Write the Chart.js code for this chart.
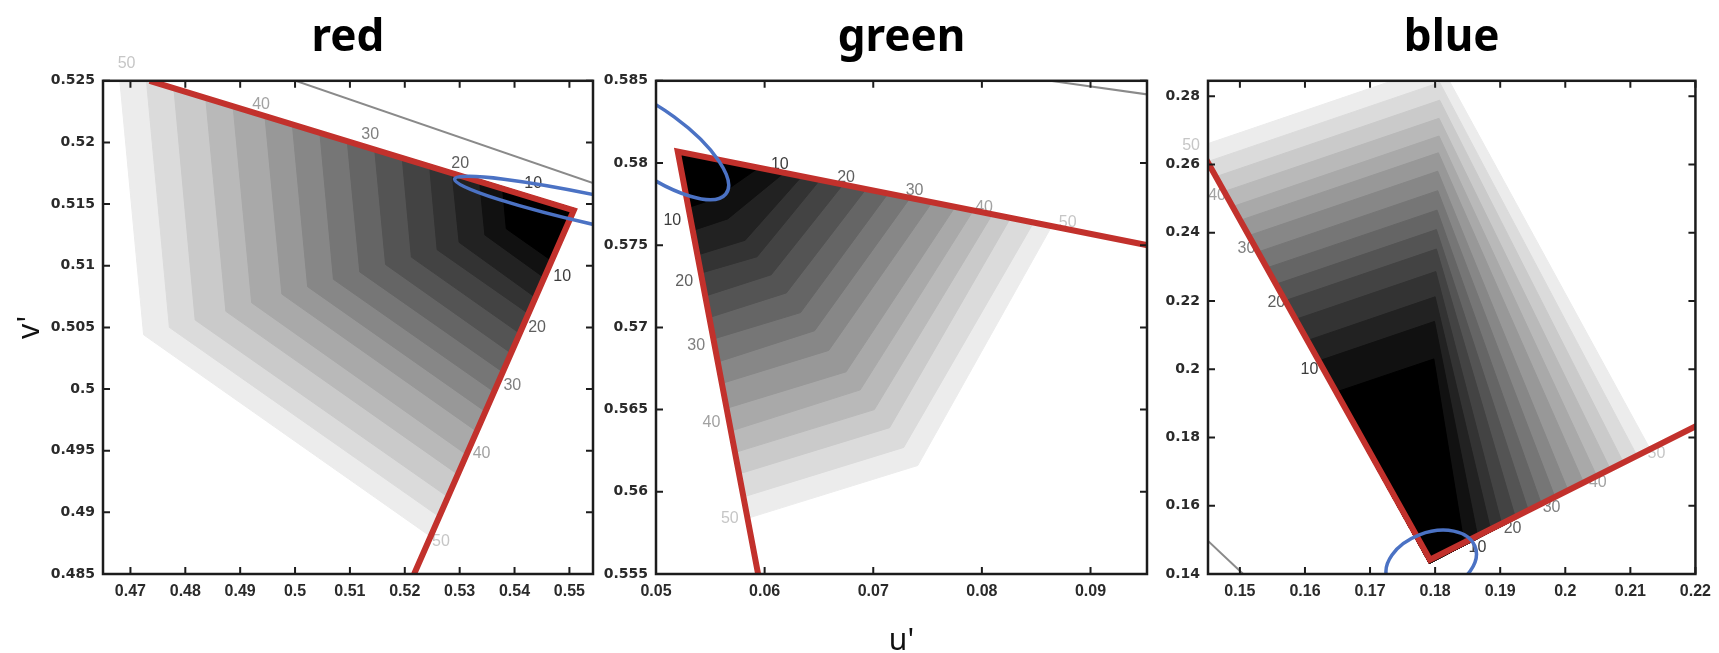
<!DOCTYPE html>
<html>
<head>
<meta charset="utf-8">
<script src="https://cdn.jsdelivr.net/npm/chart.js@4.4.1/dist/chart.umd.min.js"></script>
<style>
  html, body { margin: 0; padding: 0; background: #fff; }
  #wrap { position: relative; width: 1719px; height: 653px; overflow: hidden; }
  #wrap canvas { position: absolute; top: 0; }
</style>
</head>
<body>
<div id="wrap">
  <canvas id="redChart" width="600" height="653" style="left:0"></canvas>
  <canvas id="greenChart" width="550" height="653" style="left:600px"></canvas>
  <canvas id="blueChart" width="569" height="653" style="left:1150px"></canvas>
</div>
<script>
// contour levels, outermost first
const contourLevels = [50, 47, 44, 41, 38, 35, 32, 29, 26, 23, 20, 17, 14, 11, 8, 5];

// ---- red panel ----
const redXTicks = [0.47, 0.48, 0.49, 0.50, 0.51, 0.52, 0.53, 0.54, 0.55];
const redXLabels = ['0.47', '0.48', '0.49', '0.5', '0.51', '0.52', '0.53', '0.54', '0.55'];
const redYTicks = [0.485, 0.49, 0.495, 0.50, 0.505, 0.51, 0.515, 0.52, 0.525];
const redYLabels = ['0.485', '0.49', '0.495', '0.5', '0.505', '0.51', '0.515', '0.52', '0.525'];
const redCorner = [0.5511, 0.5146];
const redTopU = [0.4679, 0.4729, 0.4779, 0.4837, 0.4887, 0.4945, 0.4995, 0.5045, 0.5095, 0.5145, 0.5195, 0.5245, 0.5286, 0.5336, 0.5378, 0.5428];
const redTopV = [0.5258, 0.5251, 0.5245, 0.5237, 0.5230, 0.5222, 0.5215, 0.5209, 0.5202, 0.5195, 0.5189, 0.5182, 0.5176, 0.5170, 0.5164, 0.5157];
const redBendU = [0.4724, 0.4771, 0.4818, 0.4874, 0.4921, 0.4976, 0.5023, 0.5070, 0.5118, 0.5165, 0.5212, 0.5259, 0.5299, 0.5346, 0.5385, 0.5432];
const redBendV = [0.5044, 0.5050, 0.5056, 0.5063, 0.5070, 0.5077, 0.5083, 0.5089, 0.5095, 0.5101, 0.5107, 0.5113, 0.5119, 0.5125, 0.5130, 0.5136];
const redEndU = [0.5245, 0.5261, 0.5277, 0.5296, 0.5312, 0.5330, 0.5346, 0.5362, 0.5378, 0.5394, 0.5410, 0.5426, 0.5439, 0.5455, 0.5468, 0.5484];
const redEndV = [0.4881, 0.4897, 0.4913, 0.4931, 0.4947, 0.4966, 0.4982, 0.4998, 0.5014, 0.5029, 0.5045, 0.5061, 0.5074, 0.5090, 0.5104, 0.5120];
const redEdgeU = [0.4735, 0.5508, 0.5217];
const redEdgeV = [0.5250, 0.5145, 0.4850];
const redGrayU = [0.5001, 0.5543];
const redGrayV = [0.5250, 0.5167];
const redEllipse = [0.5581, 0.5142, -0.02902, 0.00283, 0.000685, 0.001156]; // centre u,v, axis 1, axis 2
const redLabelText = ['50', '40', '30', '20', '10', '10', '20', '30', '40', '50'];
const redLabelU = [0.4693, 0.4938, 0.5137, 0.5301, 0.5434, 0.5487, 0.5441, 0.5396, 0.5340, 0.5266];
const redLabelV = [0.5264, 0.5231, 0.5206, 0.5183, 0.5167, 0.5091, 0.5050, 0.5003, 0.4948, 0.4876];

// ---- green panel ----
const greenXTicks = [0.05, 0.06, 0.07, 0.08, 0.09];
const greenXLabels = ['0.05', '0.06', '0.07', '0.08', '0.09'];
const greenYTicks = [0.555, 0.56, 0.565, 0.57, 0.575, 0.58, 0.585];
const greenYLabels = ['0.555', '0.56', '0.565', '0.57', '0.575', '0.58', '0.585'];
const greenCorner = [0.0520, 0.5806];
const greenTopU = [0.0863, 0.0846, 0.0825, 0.0808, 0.0791, 0.0774, 0.0753, 0.0733, 0.0712, 0.0692, 0.0671, 0.0650, 0.0633, 0.0616, 0.0592, 0.0568];
const greenTopV = [0.5760, 0.5762, 0.5765, 0.5767, 0.5770, 0.5772, 0.5775, 0.5778, 0.5780, 0.5783, 0.5786, 0.5789, 0.5791, 0.5793, 0.5796, 0.5800];
const greenBendU = [0.0741, 0.0728, 0.0715, 0.0701, 0.0688, 0.0675, 0.0659, 0.0646, 0.0633, 0.0620, 0.0606, 0.0593, 0.0582, 0.0566, 0.0553, 0.0540];
const greenBendV = [0.5616, 0.5627, 0.5639, 0.5650, 0.5662, 0.5673, 0.5686, 0.5698, 0.5709, 0.5721, 0.5732, 0.5743, 0.5753, 0.5766, 0.5778, 0.5789];
const greenEndU = [0.0585, 0.0581, 0.0577, 0.0573, 0.0569, 0.0566, 0.0561, 0.0557, 0.0553, 0.0549, 0.0545, 0.0541, 0.0538, 0.0534, 0.0530, 0.0526];
const greenEndV = [0.5584, 0.5597, 0.5611, 0.5624, 0.5637, 0.5651, 0.5666, 0.5679, 0.5693, 0.5706, 0.5719, 0.5733, 0.5744, 0.5759, 0.5773, 0.5786];
const greenEdgeU = [0.0960, 0.0520, 0.0594];
const greenEdgeV = [0.5749, 0.5807, 0.5550];
const greenGrayU = [0.0863, 0.0960];
const greenGrayV = [0.5850, 0.5841];
const greenEllipse = [0.0498, 0.5813, 0.00662, -0.00319, -0.00187, -0.00151];
const greenLabelText = ['10', '20', '30', '40', '50', '10', '20', '30', '40', '50'];
const greenLabelU = [0.0614, 0.0675, 0.0738, 0.0802, 0.0879, 0.0515, 0.0526, 0.0537, 0.0551, 0.0568];
const greenLabelV = [0.5799, 0.5791, 0.5783, 0.5773, 0.5764, 0.5765, 0.5728, 0.5689, 0.5642, 0.5584];

// ---- blue panel ----
const blueXTicks = [0.15, 0.16, 0.17, 0.18, 0.19, 0.20, 0.21, 0.22];
const blueXLabels = ['0.15', '0.16', '0.17', '0.18', '0.19', '0.2', '0.21', '0.22'];
const blueYTicks = [0.14, 0.16, 0.18, 0.20, 0.22, 0.24, 0.26, 0.28];
const blueYLabels = ['0.14', '0.16', '0.18', '0.2', '0.22', '0.24', '0.26', '0.28'];
const blueCorner = [0.1791, 0.1431];
const blueTopU = [0.1437, 0.1450, 0.1463, 0.1475, 0.1488, 0.1500, 0.1513, 0.1527, 0.1540, 0.1554, 0.1568, 0.1584, 0.1602, 0.1619, 0.1646, 0.1685];
const blueTopV = [0.2652, 0.2608, 0.2564, 0.2520, 0.2476, 0.2436, 0.2391, 0.2343, 0.2296, 0.2248, 0.2200, 0.2145, 0.2083, 0.2023, 0.1932, 0.1797];
const blueBendU = [0.1808, 0.1807, 0.1807, 0.1806, 0.1806, 0.1805, 0.1804, 0.1804, 0.1803, 0.1802, 0.1802, 0.1801, 0.1800, 0.1799, 0.1798, 0.1796];
const blueBendV = [0.2893, 0.2840, 0.2788, 0.2735, 0.2683, 0.2634, 0.2580, 0.2523, 0.2466, 0.2409, 0.2352, 0.2286, 0.2212, 0.2140, 0.2030, 0.1870];
const blueEndU = [0.2131, 0.2111, 0.2090, 0.2070, 0.2049, 0.2029, 0.2005, 0.1985, 0.1964, 0.1944, 0.1924, 0.1903, 0.1886, 0.1866, 0.1845, 0.1825];
const blueEndV = [0.1764, 0.1744, 0.1724, 0.1704, 0.1684, 0.1664, 0.1641, 0.1621, 0.1601, 0.1581, 0.1561, 0.1541, 0.1524, 0.1504, 0.1484, 0.1464];
const blueEdgeU = [0.1445, 0.1792, 0.2215];
const blueEdgeV = [0.2626, 0.1442, 0.1847];
const blueGrayU = [0.1451, 0.1505];
const blueGrayV = [0.1497, 0.1400];
const blueEllipse = [0.1794, 0.14328, 0.0067, 0.00492, 0.00182, -0.0082];
const blueLabelText = ['50', '40', '30', '20', '10', '10', '20', '30', '40', '50'];
const blueLabelU = [0.1425, 0.1465, 0.1510, 0.1556, 0.1607, 0.1865, 0.1919, 0.1979, 0.2050, 0.2140];
const blueLabelV = [0.2656, 0.2508, 0.2354, 0.2195, 0.2000, 0.1477, 0.1533, 0.1595, 0.1667, 0.1754];

// grey level of a filled band
function shade(level) {
    const g = Math.max(0, Math.round(236 * (level - 8) / 42));
    return `rgb(${g},${g},${g})`;
}
const labelColors = { '10': '#3c3c3c', '20': '#5e5e5e', '30': '#808080', '40': '#a2a2a2', '50': '#c6c6c6' };

// labels sit above the bands but under the red edge
const contourLabels = {
    id: 'contourLabels',
    beforeDatasetDraw(chart, args, opts) {
        if (chart.data.datasets[args.index].id !== 'edge') return;
        const { ctx, scales: { x, y } } = chart;
        ctx.save();
        ctx.font = '16px "Liberation Sans", Arial, sans-serif';
        ctx.textAlign = 'center';
        ctx.textBaseline = 'middle';
        opts.texts.forEach((t, i) => {
            ctx.fillStyle = labelColors[t];
            ctx.fillText(t, x.getPixelForValue(opts.us[i]), y.getPixelForValue(opts.vs[i]));
        });
        ctx.restore();
    }
};

// blue ellipse, then the box with inward ticks
const ellipseAndFrame = {
    id: 'ellipseAndFrame',
    afterDatasetsDraw(chart, args, opts) {
        const { ctx, chartArea: a, scales: { x, y } } = chart;
        const e = opts.ellipse;
        const cx = x.getPixelForValue(e[0]), cy = y.getPixelForValue(e[1]);
        const ax = x.getPixelForValue(e[0] + e[2]) - cx, ay = y.getPixelForValue(e[1] + e[3]) - cy;
        const bx = x.getPixelForValue(e[0] + e[4]) - cx, by = y.getPixelForValue(e[1] + e[5]) - cy;
        ctx.save();
        ctx.beginPath();
        ctx.rect(a.left, a.top, a.right - a.left, a.bottom - a.top);
        ctx.clip();
        ctx.beginPath();
        ctx.save();
        ctx.transform(ax, ay, bx, by, cx, cy);
        ctx.arc(0, 0, 1, 0, Math.PI * 2);
        ctx.restore();
        ctx.lineWidth = 3.5;
        ctx.strokeStyle = '#4b72c4';
        ctx.stroke();
        ctx.restore();
    },
    afterDraw(chart) {
        const { ctx, chartArea: a, scales: { x, y } } = chart;
        ctx.save();
        ctx.strokeStyle = '#1c1c1c';
        ctx.lineWidth = 2.5;
        ctx.strokeRect(a.left, a.top, a.right - a.left, a.bottom - a.top);
        ctx.lineWidth = 2;
        ctx.beginPath();
        x.ticks.forEach(t => {
            const px = x.getPixelForValue(t.value);
            ctx.moveTo(px, a.bottom); ctx.lineTo(px, a.bottom - 7);
            ctx.moveTo(px, a.top); ctx.lineTo(px, a.top + 7);
        });
        y.ticks.forEach(t => {
            const py = y.getPixelForValue(t.value);
            ctx.moveTo(a.left, py); ctx.lineTo(a.left + 7, py);
            ctx.moveTo(a.right, py); ctx.lineTo(a.right - 7, py);
        });
        ctx.stroke();
        ctx.restore();
    }
};

function xy(us, vs) {
    return us.map((u, i) => ({ x: u, y: vs[i] }));
}

function makePanel(id, p) {
    const datasets = [];
    datasets.push({
        id: 'edge', data: xy(p.edgeU, p.edgeV), showLine: true, fill: false,
        borderColor: '#c2312c', borderWidth: 6, borderJoinStyle: 'miter',
        pointRadius: 0, clip: 0, order: 10
    });
    datasets.push({
        data: xy(p.grayU, p.grayV), showLine: true, fill: false,
        borderColor: '#8a8a8a', borderWidth: 2, pointRadius: 0, clip: 0, order: 20
    });
    contourLevels.forEach((lev, k) => {
        const c = p.corner;
        datasets.push({
            data: [
                { x: c[0], y: c[1] },
                { x: p.topU[k], y: p.topV[k] },
                { x: p.bendU[k], y: p.bendV[k] },
                { x: p.endU[k], y: p.endV[k] },
                { x: c[0], y: c[1] }
            ],
            showLine: true, fill: 'shape',
            backgroundColor: shade(lev), borderColor: shade(lev), borderWidth: 1,
            pointRadius: 0, clip: 0, order: 200 - k
        });
    });

    new Chart(document.getElementById(id), {
        type: 'scatter',
        data: { datasets },
        options: {
            responsive: false,
            animation: false,
            events: [],
            layout: { padding: { right: p.padRight } },
            plugins: {
                legend: { display: false },
                tooltip: { enabled: false },
                title: {
                    display: true, text: p.title, fullSize: false, color: '#000',
                    font: { family: '"Noto Sans", sans-serif', size: 44, weight: 'bold' },
                    padding: { top: 12, bottom: 16 }
                },
                contourLabels: { texts: p.labelText, us: p.labelU, vs: p.labelV },
                ellipseAndFrame: { ellipse: p.ellipse }
            },
            scales: {
                x: {
                    type: 'linear', min: p.xMin, max: p.xMax,
                    afterBuildTicks: s => { s.ticks = p.xTicks.map(v => ({ value: v })); },
                    afterFit: s => { s.height = 79; },
                    grid: { display: false, drawTicks: false },
                    border: { display: false },
                    ticks: {
                        autoSkip: false, maxRotation: 0, padding: 8, color: '#2a2a2a',
                        font: { family: '"Liberation Sans", Arial, sans-serif', size: 16, weight: 'bold' },
                        callback: (v, i) => p.xLabels[i]
                    },
                    title: {
                        display: !!p.xTitle, text: p.xTitle, color: '#111',
                        font: { family: '"Noto Sans", sans-serif', size: 30, lineHeight: 0.8 },
                        padding: { top: 0, bottom: 0 }
                    }
                },
                y: {
                    type: 'linear', min: p.yMin, max: p.yMax,
                    afterBuildTicks: s => { s.ticks = p.yTicks.map(v => ({ value: v })); },
                    afterFit: s => { s.width = p.yWidth; },
                    grid: { display: false, drawTicks: false },
                    border: { display: false },
                    ticks: {
                        autoSkip: false, padding: 8, color: '#2a2a2a',
                        font: { family: '"DejaVu Sans", sans-serif', size: 14, weight: 'bold' },
                        callback: (v, i) => p.yLabels[i]
                    },
                    title: {
                        display: !!p.yTitle, text: p.yTitle, color: '#111',
                        font: { family: '"Noto Sans", sans-serif', size: 30 },
                        padding: { top: 12, bottom: 0 }
                    }
                }
            }
        },
        plugins: [contourLabels, ellipseAndFrame]
    });
}

makePanel('redChart', {
    title: 'red', yTitle: "v'", xTitle: '', yWidth: 103, padRight: 7,
    xMin: 0.465, xMax: 0.5543, yMin: 0.485, yMax: 0.525,
    xTicks: redXTicks, xLabels: redXLabels, yTicks: redYTicks, yLabels: redYLabels,
    corner: redCorner, topU: redTopU, topV: redTopV, bendU: redBendU, bendV: redBendV,
    endU: redEndU, endV: redEndV, edgeU: redEdgeU, edgeV: redEdgeV,
    grayU: redGrayU, grayV: redGrayV, ellipse: redEllipse,
    labelText: redLabelText, labelU: redLabelU, labelV: redLabelV
});

makePanel('greenChart', {
    title: 'green', yTitle: '', xTitle: "u'", yWidth: 56, padRight: 3,
    xMin: 0.05, xMax: 0.0952, yMin: 0.555, yMax: 0.585,
    xTicks: greenXTicks, xLabels: greenXLabels, yTicks: greenYTicks, yLabels: greenYLabels,
    corner: greenCorner, topU: greenTopU, topV: greenTopV, bendU: greenBendU, bendV: greenBendV,
    endU: greenEndU, endV: greenEndV, edgeU: greenEdgeU, edgeV: greenEdgeV,
    grayU: greenGrayU, grayV: greenGrayV, ellipse: greenEllipse,
    labelText: greenLabelText, labelU: greenLabelU, labelV: greenLabelV
});

makePanel('blueChart', {
    title: 'blue', yTitle: '', xTitle: '', yWidth: 58, padRight: 19,
    xMin: 0.1451, xMax: 0.22, yMin: 0.14, yMax: 0.2845,
    xTicks: blueXTicks, xLabels: blueXLabels, yTicks: blueYTicks, yLabels: blueYLabels,
    corner: blueCorner, topU: blueTopU, topV: blueTopV, bendU: blueBendU, bendV: blueBendV,
    endU: blueEndU, endV: blueEndV, edgeU: blueEdgeU, edgeV: blueEdgeV,
    grayU: blueGrayU, grayV: blueGrayV, ellipse: blueEllipse,
    labelText: blueLabelText, labelU: blueLabelU, labelV: blueLabelV
});
</script>
</body>
</html>
